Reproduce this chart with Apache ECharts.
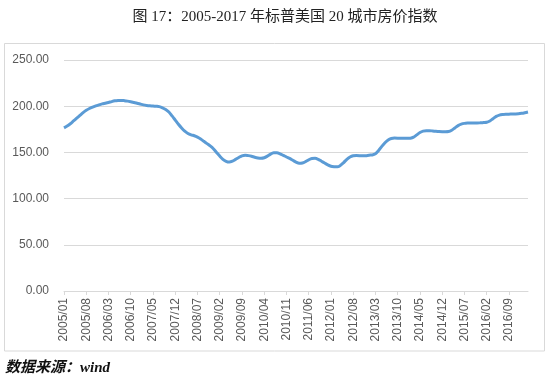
<!DOCTYPE html>
<html>
<head>
<meta charset="utf-8">
<script src="https://cdn.jsdelivr.net/npm/echarts@6/dist/echarts.min.js"></script>
<style>
html,body{margin:0;padding:0;background:#fff;}
#chart{width:551px;height:388px;}
</style>
</head>
<body>
<div id="chart"></div>
<script>
// Title and source
const titleText = '图 17：2005-2017 年标普美国 20 城市房价指数';
const sourceText = '数据来源：wind';

// Monthly categories 2005/01 .. 2017/03
const startYear = 2005, startMonth = 1, monthCount = 147;
const months = [];
for (let i = 0; i < monthCount; i++) {
  const y = startYear + Math.floor((startMonth - 1 + i) / 12);
  const m = (startMonth - 1 + i) % 12 + 1;
  months.push(y + '/' + (m < 10 ? '0' + m : m));
}

// Index values, one row per year
const v2005 = [176.5, 178.5, 181, 184, 187, 190, 193, 195.5, 197.5, 199, 200.3, 201.5];
const v2006 = [202.5, 203.2, 204, 205, 205.8, 206.2, 206.3, 206, 205.5, 204.8, 204, 203.2];
const v2007 = [202.3, 201.4, 200.8, 200.4, 200.2, 199.9, 199.5, 198.3, 196.5, 193.8, 189.5, 185];
const v2008 = [180.5, 176.5, 173, 170.5, 169, 168, 166.5, 164.5, 162, 159.5, 157, 154];
const v2009 = [150, 146, 142.5, 140.3, 139.5, 140.5, 142.5, 144.5, 146.3, 147, 146.5, 145.8];
const v2010 = [144.8, 144, 143.6, 144.2, 146, 148.2, 149.5, 149.6, 148.5, 146.8, 145, 143.5];
const v2011 = [141.5, 139.5, 138.2, 138.5, 140, 142, 143.4, 143.6, 142.5, 140.5, 138.5, 136.5];
const v2012 = [135, 134.5, 134.4, 136, 139, 142.5, 145, 146.3, 146.6, 146.5, 146.3, 146.5];
const v2013 = [147, 147.2, 148.5, 152, 156.5, 160.5, 163.5, 165, 165.5, 165.4, 165.2, 165.2];
const v2014 = [165.2, 165.4, 166.5, 169, 171.5, 173, 173.5, 173.5, 173.2, 172.8, 172.5, 172.4];
const v2015 = [172.4, 172.6, 174, 176.5, 179, 180.6, 181.4, 181.7, 181.8, 181.8, 181.8, 182];
const v2016 = [182.3, 182.6, 184, 186.5, 189, 190.4, 191, 191.3, 191.4, 191.5, 191.6, 191.8];
const v2017 = [192.3, 193, 193.8];
const indexValues = [].concat(v2005, v2006, v2007, v2008, v2009, v2010, v2011, v2012,
  v2013, v2014, v2015, v2016, v2017);

// Y axis ticks
const yMin = 0, yMax = 250, yStep = 50;

const chart = echarts.init(document.getElementById('chart'), null, {renderer: 'canvas'});
chart.setOption({
  animation: false,
  backgroundColor: '#ffffff',
  grid: {left: 64, right: 23, top: 60, bottom: 97, containLabel: false},
  graphic: [
    {type: 'rect', shape: {x: 4.5, y: 43.5, width: 540, height: 307.5},
     style: {fill: 'none', stroke: '#d9d9d9', lineWidth: 1}, silent: true},
    {type: 'text', x: 285, y: 10,
     style: {text: titleText, textAlign: 'center', fill: '#222222',
             font: '15px "Liberation Serif", "Noto Sans CJK SC", serif'}},
    {type: 'text', x: 5, y: 361,
     style: {text: sourceText, textAlign: 'left', fill: '#111111',
             font: 'italic bold 15px "Liberation Serif", "Noto Sans CJK SC", serif'}}
  ],
  xAxis: {
    type: 'category',
    data: months,
    boundaryGap: false,
    axisLine: {show: true, lineStyle: {color: '#d9d9d9', width: 1}},
    axisTick: {show: true, interval: 6, length: 4, lineStyle: {color: '#d9d9d9'}},
    axisLabel: {interval: 6, rotate: 90, margin: 7, color: '#595959', fontSize: 12,
                fontFamily: '"Liberation Sans", Arial, sans-serif'},
    splitLine: {show: false}
  },
  yAxis: {
    type: 'value',
    min: yMin, max: yMax, interval: yStep,
    axisLine: {show: false},
    axisTick: {show: false},
    axisLabel: {formatter: v => v.toFixed(2), color: '#595959', fontSize: 12, margin: 15,
                fontFamily: '"Liberation Sans", Arial, sans-serif'},
    splitLine: {show: true, lineStyle: {color: '#d9d9d9', width: 1}}
  },
  series: [{
    type: 'line',
    data: indexValues,
    smooth: 0.3,
    showSymbol: false,
    symbol: 'none',
    lineStyle: {color: '#5b9bd5', width: 3},
    itemStyle: {color: '#5b9bd5'}
  }]
});
</script>
</body>
</html>
